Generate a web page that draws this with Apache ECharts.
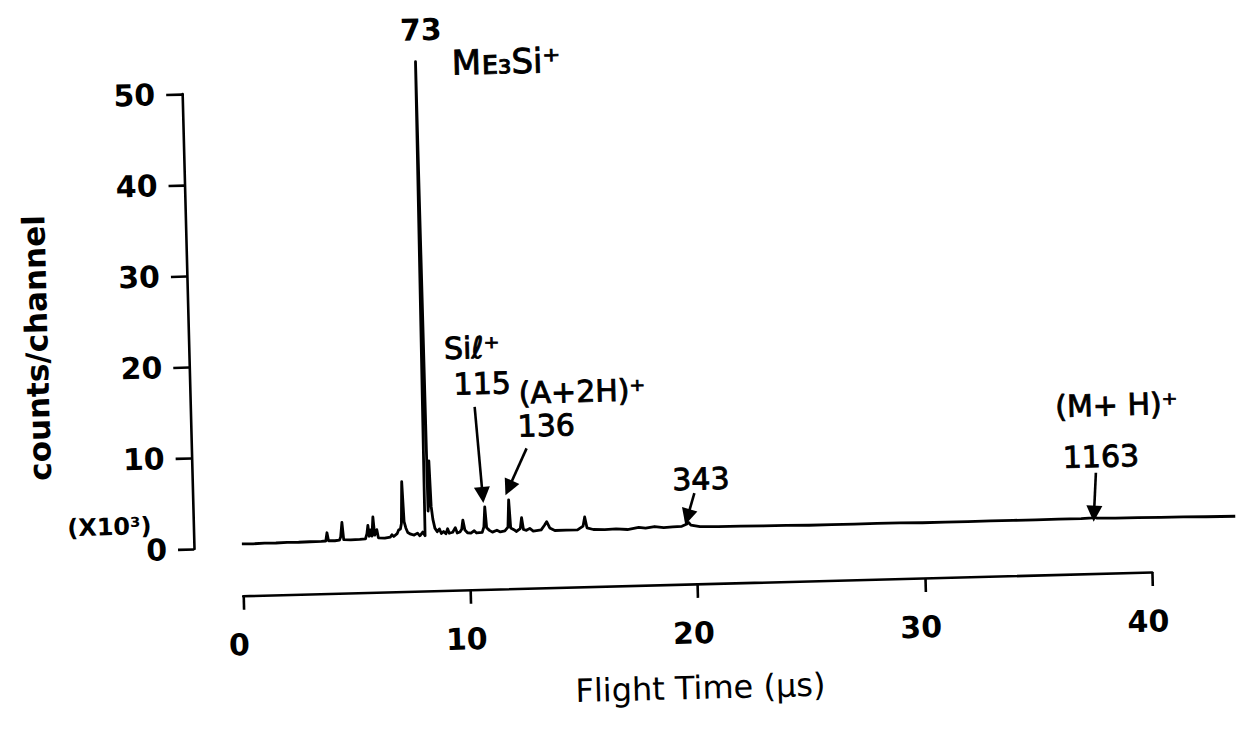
<!DOCTYPE html>
<html>
<head>
<meta charset="utf-8">
<script src="https://cdn.jsdelivr.net/npm/echarts@6/dist/echarts.min.js"></script>
<style>
html,body{margin:0;padding:0;background:#fff;overflow:hidden;width:1236px;height:732px}
#chart{width:1236px;height:732px;transform:rotate(-1.49deg);transform-origin:193px 549px}
</style>
</head>
<body>
<div id="chart"></div>
<script>
// ---- data (flight time in µs, counts/channel in x10^3) ----
const flightTime = [
  0.00, 0.50, 1.00, 1.50, 2.00, 2.50, 3.00, 3.50, 3.70, 3.76, 3.82, 4.10, 4.30, 4.36, 4.43, 4.49,
  4.80, 5.20, 5.45, 5.52, 5.57, 5.62, 5.68, 5.74, 5.80, 5.86, 5.96, 6.02, 6.30, 6.55, 6.62, 6.70,
  6.85, 6.92, 7.00, 7.05, 7.11, 7.17, 7.24, 7.32, 7.45, 7.60, 7.75, 7.85, 7.98, 8.08, 8.20, 8.24,
  8.28, 8.33, 8.38, 8.44, 8.52, 8.62, 8.72, 8.80, 8.90, 9.00, 9.08, 9.15, 9.30, 9.42, 9.50, 9.62,
  9.70, 9.76, 9.84, 9.95, 10.10, 10.25, 10.35, 10.60, 10.68, 10.74, 10.80, 10.92, 11.05, 11.25,
  11.40, 11.60, 11.74, 11.80, 11.86, 12.00, 12.10, 12.28, 12.35, 12.42, 12.55, 12.70, 12.85,
  13.20, 13.35, 13.45, 13.58, 13.80, 14.30, 14.80, 15.05, 15.13, 15.22, 15.50, 16.00, 16.50,
  17.00, 17.50, 17.80, 18.20, 18.60, 19.00, 19.40, 19.60, 19.70, 19.80, 20.20, 21.0, 22.0, 23.0,
  24.0, 25.0, 26.0, 27.0, 28.0, 29.0, 30.0, 31.0, 32.0, 33.0, 34.0, 35.0, 36.0, 37.0, 37.5, 37.6,
  37.7, 38.5, 39.5, 40.5, 41.5, 42.5, 43.8
];
const counts = [
  0.42, 0.40, 0.45, 0.42, 0.45, 0.44, 0.46, 0.48, 0.50, 1.40, 0.52, 0.50, 0.55, 0.90, 2.50, 0.60,
  0.55, 0.58, 0.62, 1.20, 2.10, 0.90, 1.60, 0.90, 3.00, 1.00, 1.60, 0.70, 0.65, 0.75, 1.00, 0.80,
  1.10, 1.50, 1.60, 2.20, 6.80, 2.40, 1.70, 1.20, 1.00, 0.90, 1.10, 0.80, 1.20, 0.80, 52.9, 3.50,
  4.50, 9.00, 4.00, 2.60, 1.60, 1.20, 1.50, 1.00, 1.20, 0.95, 1.50, 1.00, 1.10, 1.60, 1.00, 1.10,
  1.40, 2.40, 1.30, 1.00, 0.95, 1.20, 0.95, 1.00, 1.60, 3.80, 1.50, 1.20, 1.00, 1.20,
  1.00, 1.10, 1.50, 4.50, 1.40, 1.20, 1.00, 1.30, 2.50, 1.20, 1.10, 1.30, 1.00,
  1.10, 1.60, 2.00, 1.30, 1.00, 1.00, 1.00, 1.40, 2.40, 1.20, 1.00, 0.95, 1.00,
  0.90, 1.10, 1.00, 1.15, 1.00, 1.05, 1.10, 1.30, 1.50, 1.20, 1.00, 0.95, 0.95, 0.90,
  0.90, 0.85, 0.85, 0.85, 0.85, 0.85, 0.80, 0.80, 0.80, 0.80, 0.80, 0.80, 0.80, 0.80, 0.85, 0.90,
  0.80, 0.75, 0.75, 0.72, 0.70, 0.65, 0.62
];

// tick values of the two drawn axes
const yTicks = [0, 10, 20, 30, 40, 50];
const xTicks = [0, 10, 20, 30, 40];

// peak annotations (centre of each label, in data units)
const labelText   = ['73', 'Mᴇ₃Si⁺', 'Siℓ⁺', '115', '(A+2H)⁺', '136', '343', '(M+ H)⁺', '1163'];
const labelTime   = [8.47, 12.19, 10.35, 10.77, 15.16, 13.54, 20.29, 38.68, 37.94];
const labelCounts = [56.4, 52.67, 21.3, 17.36, 16.2, 12.56, 6.24, 13.19, 7.57];

// arrows: from [time, counts] to [time, counts]
const arrowFrom = [[10.41, 14.8], [12.65, 10.1], [19.99, 4.7], [37.70, 5.8]];
const arrowTo   = [[10.66, 5.1],  [11.82, 5.8],  [19.66, 2.1], [37.57, 1.3]];
const arrowBend = [0.08, 0.18, 0.0, 0.0];

const FONT = '"DejaVu Sans", "Liberation Sans", sans-serif';
const chart = echarts.init(document.getElementById('chart'), null, {renderer: 'svg'});

const spectrum = flightTime.map((t, i) => [t, counts[i]]);

const labelData = labelText.map((txt, i) => ({
  value: [labelTime[i], labelCounts[i]],
  itemStyle: {opacity: 1},
  label: {
    show: true,
    position: 'inside',
    formatter: txt,
    fontFamily: FONT,
    fontSize: txt.indexOf('Si⁺') > 0 ? 34 : 30,
    fontWeight: txt === '73' ? 'bold' : 'normal',
    color: '#000',
    opacity: 1,
    textBorderColor: '#000',
    textBorderWidth: txt === '73' ? 0 : 0.9
  }
}));

const arrowData = arrowFrom.map((f, i) => [
  {coord: f, lineStyle: {curveness: arrowBend[i]}},
  {coord: arrowTo[i]}
]);

const option = {
  animation: false,
  backgroundColor: '#ffffff',
  grid: [
    {left: 242, top: 94, width: 995.6, height: 455},
    {left: 242, top: 560, width: 909.2, height: 37}
  ],
  xAxis: [
    {gridIndex: 0, type: 'value', min: 0, max: 43.8, show: false},
    {
      gridIndex: 1, type: 'value', min: xTicks[0], max: xTicks[xTicks.length - 1], interval: 10,
      axisLine: {show: true, onZero: false, lineStyle: {color: '#000', width: 2.6}},
      axisTick: {show: true, length: 14, lineStyle: {color: '#000', width: 2.6}},
      axisLabel: {
        show: true, margin: 34, fontSize: 30, fontWeight: 'bold', fontFamily: FONT, color: '#000',
        padding: [0, 10, 0, 0]
      },
      splitLine: {show: false},
      name: 'Flight Time (µs)', nameLocation: 'middle', nameGap: 88,
      nameTextStyle: {fontSize: 32, fontFamily: FONT, color: '#000'}
    }
  ],
  yAxis: [
    {
      gridIndex: 0, type: 'value', min: yTicks[0], max: yTicks[yTicks.length - 1], interval: 10, offset: 48,
      axisLine: {show: true, onZero: false, lineStyle: {color: '#000', width: 2.6}},
      axisTick: {show: true, length: 16, lineStyle: {color: '#000', width: 2.6}},
      axisLabel: {show: true, margin: 27, fontSize: 30, fontWeight: 'bold', fontFamily: FONT, color: '#000',
        padding: [8, 0, 0, 0]},
      splitLine: {show: false}
    },
    {gridIndex: 1, type: 'value', min: 0, max: 1, show: false}
  ],
  graphic: [
    {
      type: 'text', x: 42, y: 344, rotation: Math.PI / 2,
      style: {text: 'counts/channel', align: 'center', verticalAlign: 'middle',
        font: 'bold 31px "DejaVu Sans"', fill: '#000'}
    },
    {
      type: 'text', x: 110, y: 525,
      style: {text: '(X10³)', align: 'center', verticalAlign: 'middle',
        font: 'bold 24px "DejaVu Sans"', fill: '#000'}
    }
  ],
  series: [
    {
      type: 'line', xAxisIndex: 0, yAxisIndex: 0, data: spectrum,
      showSymbol: false, symbol: 'none', clip: false, silent: true,
      lineStyle: {color: '#000', width: 2.8, join: 'round'}
    },
    {
      type: 'scatter', xAxisIndex: 0, yAxisIndex: 0, data: labelData,
      symbolSize: 0, clip: false, silent: true,
      itemStyle: {opacity: 1},
      markLine: {
        silent: true, animation: false,
        symbol: ['none', 'path://M5,0 L10,18 L0,18 Z'],
        symbolSize: 16,
        label: {show: false},
        lineStyle: {color: '#000', width: 2.6, type: 'solid', opacity: 1},
        data: arrowData
      }
    }
  ]
};
chart.setOption(option);
</script>
</body>
</html>
